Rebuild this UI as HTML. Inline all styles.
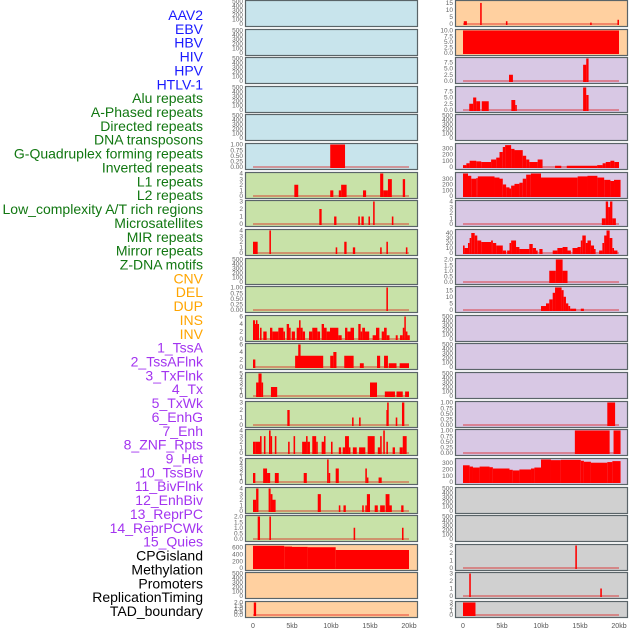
<!DOCTYPE html>
<html><head><meta charset="utf-8">
<style>
body{margin:0;background:#fff;}
svg{display:block;font-family:"Liberation Sans",sans-serif;}
</style></head>
<body>
<svg id="chart" width="630" height="630" xmlns="http://www.w3.org/2000/svg"></svg>
<script>
// ---- data ----
const labelNames=["AAV2","EBV","HBV","HIV","HPV","HTLV-1","Alu repeats","A-Phased repeats","Directed repeats","DNA transposons","G-Quadruplex forming repeats","Inverted repeats","L1 repeats","L2 repeats","Low_complexity A/T rich regions","Microsatellites","MIR repeats","Mirror repeats","Z-DNA motifs","CNV","DEL","DUP","INS","INV","1_TssA","2_TssAFlnk","3_TxFlnk","4_Tx","5_TxWk","6_EnhG","7_Enh","8_ZNF_Rpts","9_Het","10_TssBiv","11_BivFlnk","12_EnhBiv","13_ReprPC","14_ReprPCWk","15_Quies","CPGisland","Methylation","Promoters","ReplicationTiming","TAD_boundary"];
const labelColors=["#1a1aff","#1a1aff","#1a1aff","#1a1aff","#1a1aff","#1a1aff","#117711","#117711","#117711","#117711","#117711","#117711","#117711","#117711","#117711","#117711","#117711","#117711","#117711","#ffa500","#ffa500","#ffa500","#ffa500","#ffa500","#a334f0","#a334f0","#a334f0","#a334f0","#a334f0","#a334f0","#a334f0","#a334f0","#a334f0","#a334f0","#a334f0","#a334f0","#a334f0","#a334f0","#a334f0","#000","#000","#000","#000","#000"];
const panelBg=["#c8e4ec","#c8e4ec","#c8e4ec","#c8e4ec","#c8e4ec","#c8e4ec","#c8e2a8","#c8e2a8","#c8e2a8","#c8e2a8","#c8e2a8","#c8e2a8","#c8e2a8","#c8e2a8","#c8e2a8","#c8e2a8","#c8e2a8","#c8e2a8","#c8e2a8","#ffd0a0","#ffd0a0","#ffd0a0","#ffd0a0","#ffd0a0","#d8c8e4","#d8c8e4","#d8c8e4","#d8c8e4","#d8c8e4","#d8c8e4","#d8c8e4","#d8c8e4","#d8c8e4","#d8c8e4","#d8c8e4","#d8c8e4","#d8c8e4","#d8c8e4","#d8c8e4","#d0d0d0","#d0d0d0","#d0d0d0","#d0d0d0","#d0d0d0"];
const T500=["0","100","200","300","400","500"];
const T1=["0.00","0.25","0.50","0.75","1.00"];
const T2=["0.0","0.5","1.0","1.5","2.0"];
const panelTicks=[T500,T500,T500,T500,T500,T1,["0","1","2","3","4"],["0","1","2","3"],["0","1","2","3","4"],T500,T1,["0","2","4","6"],["0","2","4","6"],["0","1","2","3","4","5"],["0","1","2","3"],["0","1","2","3","4"],["0","1","2","3","4","5"],["0","1","2","3","4"],T2,["0","200","400","600"],T500,T2,
["0","5","10","15"],["0.0","2.5","5.0","7.5","10.0"],["0.0","2.5","5.0","7.5"],["0.0","2.5","5.0","7.5"],T500,["0","100","200","300"],["0","100","200","300"],["0","1","2","3","4"],["0","10","20","30","40"],T2,["0","5","10","15"],T500,T500,T500,T1,T1,["0","100","200","300"],T500,T500,["0","1","2","3"],["0","1","2","3"],["0","1","2","3"]];
const panelMax=[500,500,500,500,500,1,4,3,4,500,1,6,6,5,3,4,5,4,2,650,500,2,
16,10,9,9,500,360,390,4,45,2,17,500,500,500,1,1,350,500,500,3,3,3];
// bars per panel: [start kb, end kb, value]
const P=[];
P[5]=[[9.9,11.8,1]];
P[6]=[[5.3,5.8,2],[9.9,10.3,1],[11.0,11.3,1],[11.3,12.0,2],[14.1,14.5,1],[16.3,16.7,4],[16.7,17.3,1],[17.3,17.8,3],[19.2,19.5,3]];
P[7]=[[8.5,8.8,2],[10.4,10.7,1],[13.5,13.7,1],[13.9,14.2,1],[14.8,15.0,1],[15.4,15.6,3],[17.8,18.0,1]];
P[8]=[[0.0,0.6,2],[2.1,2.3,4],[10.6,10.8,1],[11.7,12.0,2],[12.8,13.1,1],[16.3,16.5,1],[17.1,17.3,2],[19.6,19.8,1]];
P[10]=[[17.1,17.3,1]];
P[11]=[[0,0.26,5],[0.26,0.38,4],[0.38,0.56,5],[0.56,0.77,4],[0.9,1.1,3],[1.32,1.75,2],[2.18,2.48,3],[2.48,3.25,2],[3.25,3.89,3],[3.89,4.1,2],[4.32,4.62,4],[4.62,4.83,3],[4.96,5.38,2],[5.6,5.9,3],[5.9,6.1,5],[6.1,6.37,3],[6.37,6.67,2],[7.18,7.6,2],[7.6,8.25,3],[8.25,8.6,2],[8.8,9.1,4],[9.1,9.44,3],[9.44,9.87,2],[9.87,10.94,3],[10.94,11.37,1],[11.8,12.1,3],[12.1,12.5,2],[12.5,12.95,3],[13.5,13.8,4],[13.8,14.0,2],[14.0,14.36,3],[14.36,14.9,2],[15.34,15.77,1],[15.77,16.2,3],[16.5,16.8,2],[16.8,17.14,3],[17.14,17.5,1],[18.3,18.55,1],[18.85,19.2,1],[19.2,19.4,3],[19.4,19.57,6],[19.57,19.8,2],[19.8,20.1,1]];
P[12]=[[0,0.3,2],[5.4,9.0,3],[5.8,6.1,6],[9.9,10.3,3],[10.3,10.7,4],[11.7,12.9,3],[13.7,14.2,1],[15.9,16.3,3],[16.8,17.3,3],[17.4,18.4,1],[18.8,20.0,1]];
P[13]=[[0.4,0.7,3],[0.7,1.1,5],[1.1,1.3,3],[2.3,3.1,2],[15.0,15.9,3],[16.9,18.2,1],[18.4,19.2,1],[19.5,20.0,1]];
P[14]=[[4.4,4.7,2],[12.7,12.9,1],[13.6,13.8,1],[17.1,17.2,2],[17.2,17.4,3],[18.3,18.5,1],[19.1,19.4,3]];
P[15]=[[0,0.34,2],[0.34,0.9,2],[0.9,1.1,3],[1.4,1.6,3],[2.05,2.26,4],[2.26,2.4,3],[2.8,3.0,3],[4.5,4.7,2],[5.2,5.4,3],[6.3,6.8,2],[6.8,7.0,3],[7.0,7.3,2],[7.6,8.1,3],[8.1,8.3,2],[8.8,9.1,2],[9.1,9.3,3],[10.0,10.2,2],[11.0,11.3,1],[11.5,11.8,1],[11.8,12.3,3],[12.3,12.4,1],[12.8,13.3,1],[13.6,14.4,1],[14.7,15.6,3],[16.0,16.3,1],[16.3,16.5,3],[16.7,16.9,4],[17.1,17.3,2],[17.9,18.2,1],[18.8,19.2,1],[19.2,19.7,3]];
P[16]=[[0,0.3,2],[1.3,1.8,3],[1.8,2.2,2],[2.8,3.3,2],[6.5,6.9,2],[9.5,9.7,5],[9.7,9.9,2],[10.6,11.0,3],[14.4,14.6,3],[14.6,14.8,1],[16.1,16.5,1]];
P[17]=[[0,0.4,2],[0.4,0.7,4],[2.0,2.26,4],[2.26,2.5,3],[2.5,2.9,2],[8.3,8.7,3],[11.0,11.2,1],[11.6,11.9,1],[14.0,14.2,1],[14.4,14.6,1],[14.6,15.0,3],[15.6,16.0,1],[16.3,16.9,1],[17.0,17.5,3],[17.5,17.8,1],[19.0,19.3,1]];
P[18]=[[0.6,0.9,2],[2.1,2.3,2],[12.9,13.1,1],[19.1,19.3,1]];
P[19]=[[0,4.0,640],[4.0,5.0,620],[5.0,7.0,610],[7.0,10.6,600],[10.6,20.0,520]];
P[21]=[[0.1,0.4,2]];
P[22]=[[0.1,0.5,2],[2.2,2.4,15],[5.5,5.7,2],[16.3,16.5,1],[19.8,20.0,3]];
P[23]=[[0,20.0,10]];
P[24]=[[5.9,6.4,2.5],[15.4,15.8,6.5],[15.8,16.1,9]];
P[25]=[[0.8,1.3,2.5],[1.3,1.7,5],[1.7,2.2,3.5],[2.4,3.3,3.5],[6.2,6.7,4],[6.7,6.9,2],[15.4,15.8,9],[15.8,16.1,6]];
P[27]=[[0,0.43,30],[0.43,0.85,60],[0.85,1.7,100],[1.7,2.34,90],[2.34,3.6,80],[3.6,4.26,120],[4.26,4.68,150],[4.68,5.1,240],[5.1,5.4,320],[5.4,6.17,350],[6.17,6.6,290],[6.6,7.66,270],[7.66,8.1,180],[8.1,8.5,120],[8.5,9.57,80],[9.57,10.2,120],[11.8,12.6,20],[13.3,17.2,20],[17.2,17.9,30],[17.9,18.3,60],[18.3,18.9,80],[18.9,19.4,100],[19.4,20.0,80]];
P[28]=[[0,0.64,390],[0.64,1.06,350],[1.06,1.7,300],[1.7,1.9,310],[1.9,4.04,340],[4.04,4.68,320],[4.68,5.1,300],[5.1,5.53,200],[5.53,5.96,150],[5.96,6.17,130],[6.17,6.6,180],[6.6,7.23,210],[7.23,7.66,230],[7.66,8.1,300],[8.1,8.7,370],[8.7,10.0,390],[10.0,14.7,320],[14.7,15.96,340],[15.96,17.23,350],[17.23,18.1,320],[18.1,18.9,280],[18.9,19.36,260],[19.36,20.2,280]];
P[29]=[[17.8,18.3,1],[18.3,18.6,4],[18.6,18.85,3],[18.85,19.15,4],[19.15,19.6,1]];
P[30]=[[0,0.21,15],[0.21,0.64,10],[0.64,0.85,20],[0.85,1.06,30],[1.06,1.5,40],[1.5,1.83,35],[1.83,2.34,25],[2.34,3.6,22],[3.6,3.83,25],[3.83,4.26,20],[4.26,5.1,15],[5.1,5.53,5],[5.66,5.96,5],[5.96,6.17,20],[6.17,6.8,25],[6.8,7.23,12],[7.23,8.5,8],[8.5,8.94,18],[8.94,9.36,10],[9.36,9.57,5],[9.79,10.2,8],[11.5,12.1,5],[12.1,12.77,10],[12.77,13.4,12],[13.4,13.83,5],[14.04,14.68,10],[14.68,15.1,12],[15.1,15.3,25],[15.3,15.74,35],[15.74,15.96,20],[15.96,16.4,25],[16.4,16.8,15],[16.8,17.0,8],[17.45,17.87,5],[17.87,18.1,20],[18.1,18.4,35],[18.4,18.8,45],[18.8,19.15,30],[19.15,19.36,10],[19.36,19.8,5]];
P[31]=[[11.06,11.9,1],[11.9,12.77,2],[12.77,13.4,1]];
P[32]=[[10.0,10.64,3],[10.64,11.06,5],[11.06,11.5,8],[11.5,11.8,13],[11.8,12.64,17],[12.64,12.9,15],[12.9,13.2,10],[13.2,13.5,5],[13.5,13.74,3],[13.74,14.5,1],[15.1,15.5,1]];
P[36]=[[18.5,19.5,1]];
P[37]=[[14.34,18.8,1],[19.3,20.2,1]];
P[38]=[[0,0.85,260],[0.85,1.28,240],[1.28,2.13,225],[2.13,3.4,240],[3.4,3.83,230],[3.83,5.96,210],[5.96,6.38,190],[6.38,7.23,180],[7.23,8.72,195],[8.72,9.15,210],[9.15,10.0,225],[10.0,11.28,350],[11.28,12.55,340],[12.55,15.1,345],[15.1,15.5,330],[15.5,16.4,315],[16.4,18.5,300],[18.5,19.15,310],[19.15,20.2,325]];
P[41]=[[14.4,14.6,3]];
P[42]=[[0.8,1.0,3],[17.6,17.8,1]];
P[43]=[[0,1.6,3]];
const xTickVals=[0,5,10,15,20];
const xTickLabels=["0","5kb","10kb","15kb","20kb"];

// ---- rendering ----
const NS="http://www.w3.org/2000/svg";
const svg=document.getElementById('chart');
function mk(tag,attrs,parent){const e=document.createElementNS(NS,tag);for(const k in attrs)e.setAttribute(k,attrs[k]);(parent||svg).appendChild(e);return e;}
const colX=[245,455], colW=172;
function xScale(col,kb){return colX[col]+8+kb*7.8;}
function rowTop(r){return Math.round(r*28.62);}
function rowH(r){return r===21?16:26;}

// labels
labelNames.forEach((n,i)=>{
  const t=mk('text',{x:203,y:15+i*13.86+5,'text-anchor':'end','font-size':'14',fill:labelColors[i]});
  
  
  t.textContent=n;
});

for(let p=0;p<44;p++){
  const col=p<22?0:1, r=p%22;
  const top=rowTop(r), h=rowH(r), x0=colX[col];
  const g=mk('g',{});
  
  
  const bg=mk('rect',{x:x0+0.5,y:top+0.5,width:colW,height:h,fill:panelBg[p],stroke:'#5a6468','stroke-width':1.2},g);
  
  
  const ymax=panelMax[p];
  const y0=top+h-2, y1=top+1.5;
  const yS=v=>y0-(v/ymax)*(y0-y1);
  // y ticks
  const ticks=panelTicks[p];
  ticks.forEach(tl=>{
    const t=mk('text',{x:x0-2,y:yS(parseFloat(tl))+2.2,'text-anchor':'end','font-size':'6.5',fill:'#666'},g);
    
    
    t.textContent=tl;
  });
  const bars=P[p];
  if(bars){
    const base=mk('rect',{x:xScale(col,0),y:y0-1,width:xScale(col,20)-xScale(col,0),height:2,fill:'rgba(220,0,0,0.35)'},g);
    
    
    bars.forEach(b=>{
      const xa=xScale(col,b[0]), xb=xScale(col,b[1]);
      const rc=mk('rect',{x:xa,y:yS(b[2]),width:Math.max(1.5,xb-xa),height:y0-yS(b[2])+1,fill:'#ff0000'},g);
      
      
    });
  }
}
// x axes
for(let col=0;col<2;col++){
  xTickVals.forEach((v,i)=>{
    const t=mk('text',{x:xScale(col,v),y:628,'text-anchor':'middle','font-size':'7',fill:'#555'});
    
    
    t.textContent=xTickLabels[i];
  });
}
</script>
</body></html>
